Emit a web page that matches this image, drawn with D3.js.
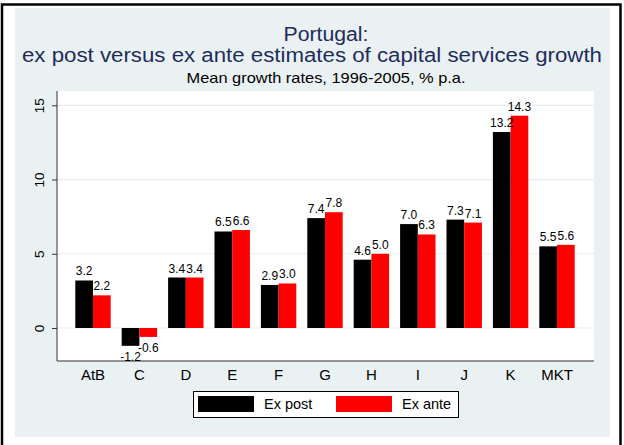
<!DOCTYPE html>
<html>
<head>
<meta charset="utf-8">
<script src="https://cdn.jsdelivr.net/npm/d3@7"></script>
<style>
  body { margin: 0; background: #fff; }
  text { font-family: "Liberation Sans", Arial, sans-serif; }
</style>
</head>
<body>
<div id="chart"></div>
<script>
// chart data
const sectors = ['AtB', 'C', 'D', 'E', 'F', 'G', 'H', 'I', 'J', 'K', 'MKT'];
const exPost = [3.2, -1.2, 3.4, 6.5, 2.9, 7.4, 4.6, 7.0, 7.3, 13.2, 5.5];
const exAnte = [2.2, -0.6, 3.4, 6.6, 3.0, 7.8, 5.0, 6.3, 7.1, 14.3, 5.6];
const seriesNames = ['Ex post', 'Ex ante'];
const seriesColors = ['#000000', '#ff0000'];
const yTicks = [0, 5, 10, 15];

const width = 624, height = 445;
const plot = {left: 57, right: 594, top: 91, bottom: 361};

const svg = d3.select('#chart').append('svg')
  .attr('width', width).attr('height', height);

// outer frame + light background
svg.append('rect').attr('x', 2).attr('y', 4.5).attr('width', 618.5).attr('height', 445)
  .attr('fill', '#fff').attr('stroke', '#000').attr('stroke-width', 2.5);
svg.append('rect').attr('x', 15).attr('y', 8).attr('width', 595).attr('height', 429)
  .attr('fill', '#eaf1f3');
svg.append('rect').attr('x', plot.left).attr('y', plot.top)
  .attr('width', plot.right - plot.left).attr('height', plot.bottom - plot.top)
  .attr('fill', '#fff');

// titles (stretched to the width they take in the original)
svg.append('text').attr('x', 326).attr('y', 41).attr('text-anchor', 'middle')
  .attr('font-size', 19.5).attr('fill', '#1e2d5c')
  .attr('textLength', 85).attr('lengthAdjust', 'spacingAndGlyphs')
  .text('Portugal:');
svg.append('text').attr('x', 312).attr('y', 62).attr('text-anchor', 'middle')
  .attr('font-size', 19.5).attr('fill', '#1e2d5c')
  .attr('textLength', 580).attr('lengthAdjust', 'spacingAndGlyphs')
  .text('ex post versus ex ante estimates of capital services growth');
svg.append('text').attr('x', 326).attr('y', 83).attr('text-anchor', 'middle')
  .attr('font-size', 14.5).attr('fill', '#000')
  .attr('textLength', 279).attr('lengthAdjust', 'spacingAndGlyphs')
  .text('Mean growth rates, 1996-2005, % p.a.');

// scales
const y = d3.scaleLinear().domain([0, 15]).range([328, 105.3]);
const x = d3.scaleBand().domain(sectors).range([69.8, 580.2]).paddingInner(0).paddingOuter(0);
const xSub = d3.scaleBand().domain(seriesNames)
  .range([(x.bandwidth() - 35.4) / 2, (x.bandwidth() + 35.4) / 2]);

// gridlines
svg.append('g').selectAll('line').data(yTicks).join('line')
  .attr('x1', plot.left).attr('x2', plot.right)
  .attr('y1', d => y(d)).attr('y2', d => y(d))
  .attr('stroke', '#e6eef0').attr('stroke-width', 1.2);

// y axis
const yAxis = svg.append('g').attr('transform', `translate(${plot.left},0)`)
  .call(d3.axisLeft(y).tickValues(yTicks).tickSize(5).tickPadding(10));
yAxis.select('.domain').attr('d', `M0,${plot.top}V${plot.bottom}`).attr('stroke', '#333');
yAxis.selectAll('.tick line').attr('stroke', '#333');
yAxis.selectAll('.tick text')
  .attr('font-size', 13.5).attr('fill', '#000').attr('font-family', '"Liberation Sans", Arial, sans-serif')
  .attr('x', null).attr('dy', null)
  .attr('text-anchor', 'middle')
  .attr('transform', 'translate(-18,0) rotate(-90)')
  .attr('y', 0).attr('dy', '0.35em');

// x axis line
svg.append('line').attr('x1', plot.left).attr('x2', plot.right)
  .attr('y1', plot.bottom).attr('y2', plot.bottom)
  .attr('stroke', '#333').attr('stroke-width', 1);

// x labels
const xAxis = svg.append('g').attr('transform', `translate(0,${plot.bottom})`)
  .call(d3.axisBottom(x).tickSize(0).tickPadding(8));
xAxis.select('.domain').remove();
xAxis.selectAll('.tick text').attr('font-size', 15).attr('fill', '#000')
  .attr('font-family', '"Liberation Sans", Arial, sans-serif');

// bars
const rows = sectors.map((s, i) => ({sector: s, values: [exPost[i], exAnte[i]]}));
const groups = svg.append('g').selectAll('g').data(rows).join('g')
  .attr('transform', d => `translate(${x(d.sector)},0)`);

groups.selectAll('rect')
  .data(d => d.values.map((v, j) => ({name: seriesNames[j], v: v, c: seriesColors[j]})))
  .join('rect')
  .attr('x', d => xSub(d.name))
  .attr('width', xSub.bandwidth())
  .attr('y', d => y(Math.max(0, d.v)))
  .attr('height', d => Math.abs(y(d.v) - y(0)))
  .attr('fill', d => d.c);

// value labels (plain hyphen for negatives, as in the original)
groups.selectAll('text')
  .data(d => d.values.map((v, j) => ({name: seriesNames[j], v: v})))
  .join('text')
  .attr('x', d => xSub(d.name) + xSub.bandwidth() / 2)
  .attr('y', d => d.v >= 0 ? y(d.v) - 5 : y(d.v) + 15)
  .attr('text-anchor', 'middle')
  .attr('font-size', 12).attr('fill', '#000')
  .text(d => d.v.toFixed(1));

// legend
const legend = svg.append('g');
legend.append('rect').attr('x', 193.5).attr('y', 391.5).attr('width', 265).attr('height', 26)
  .attr('fill', '#fff').attr('stroke', '#000').attr('stroke-width', 1);
const lx = [198, 336];
seriesNames.forEach((n, i) => {
  legend.append('rect').attr('x', lx[i]).attr('y', 396).attr('width', 56).attr('height', 16)
    .attr('fill', seriesColors[i]);
  legend.append('text').attr('x', lx[i] + 66).attr('y', 409)
    .attr('font-size', 14.5).attr('fill', '#000').text(n);
});
</script>
</body>
</html>
